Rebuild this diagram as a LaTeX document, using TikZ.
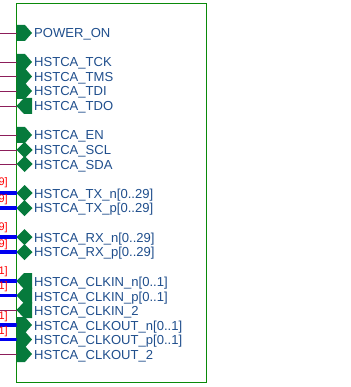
\documentclass[tikz,border=0pt]{standalone}
\usepackage{fontspec}
\setmainfont{Liberation Sans}
\definecolor{boxg}{HTML}{0A8A0A}
\definecolor{pin}{HTML}{067A3C}
\definecolor{txt}{HTML}{1F4E8C}
\definecolor{wire}{HTML}{8C1E5A}
\definecolor{bus}{HTML}{0000F0}
\tikzset{x=1pt,y=-1pt,
 lab/.style={anchor=west,inner sep=0,text=txt,font=\fontsize{13.05pt}{14pt}\selectfont},
 redl/.style={anchor=east,inner sep=0,text=red,font=\fontsize{11pt}{12pt}\selectfont},
 wirel/.style={wire,line width=0.9pt},
 busl/.style={bus,line width=3.4pt},
 box/.style={draw=boxg,line width=1pt},
 pinf/.style={fill=pin,draw=none}}
\newcommand{\inpin}[1]{\fill[pinf] (16.5,#1-8)--(25,#1-8)--(32,#1)--(25,#1+8)--(16.5,#1+8)--cycle;}
\newcommand{\outpin}[1]{\fill[pinf] (32,#1-8)--(24,#1-8)--(16.5,#1)--(24,#1+8)--(32,#1+8)--cycle;}
\newcommand{\biopin}[1]{\fill[pinf] (16.5,#1)--(24.5,#1-8)--(32.5,#1)--(24.5,#1+8)--cycle;}
\begin{document}
\begin{tikzpicture}
\useasboundingbox (0,0) rectangle (350,387);
\draw[box] (16.5,3.5) rectangle (206.5,382.5);
\foreach \y in {33,62,76.5,91,106,135,150,164,310,354} {\draw[wirel] (0,\y)--(16.5,\y);}
\foreach \y in {193,208,237,252,281,295.5,325,339.5} {\draw[busl] (0,\y)--(16.5,\y);}
\foreach \y in {33,62,76.5,91,135,325,339.5,354} {\inpin{\y}}
\foreach \y in {106,281,295.5,310} {\outpin{\y}}
\foreach \y in {150,164,193,208,237,252} {\biopin{\y}}
\foreach \y/\t in {34.5/POWER\_ON,63.5/HSTCA\_TCK,78/HSTCA\_TMS,92.5/HSTCA\_TDI,107.5/HSTCA\_TDO,136.5/HSTCA\_EN,151.5/HSTCA\_SCL,166/HSTCA\_SDA,195/HSTCA\_TX\_n[0..29],209.5/HSTCA\_TX\_p[0..29],239/HSTCA\_RX\_n[0..29],253.5/HSTCA\_RX\_p[0..29],283.5/HSTCA\_CLKIN\_n[0..1],298/HSTCA\_CLKIN\_p[0..1],312.5/HSTCA\_CLKIN\_2,327/HSTCA\_CLKOUT\_n[0..1],341.5/HSTCA\_CLKOUT\_p[0..1],356/HSTCA\_CLKOUT\_2}
 {\node[lab] at (34,\y) {\t};}
\foreach \y/\t in {183/{[0..29]},200/{[0..29]},228/{[0..29]},245/{[0..29]},272/{[0..1]},287/{[0..1]},317/{[0..1]},332/{[0..1]}}
 {\node[redl] at (8,\y) {\t};}
\end{tikzpicture}
\end{document}
